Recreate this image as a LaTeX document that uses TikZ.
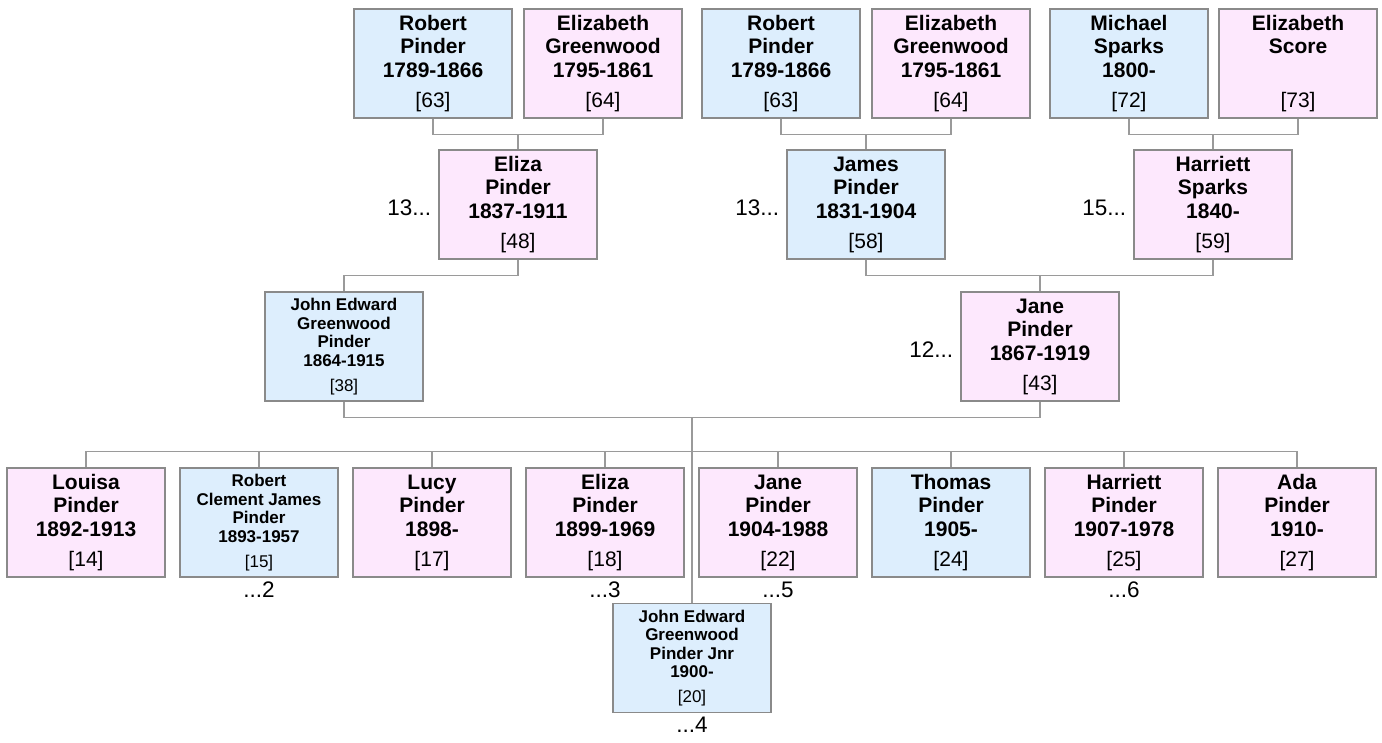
\documentclass[tikz,border=0pt]{standalone}
\usepackage{fontspec}
\setmainfont{Liberation Sans}
\definecolor{mblue}{HTML}{DDEEFD}
\definecolor{fpink}{HTML}{FDE8FD}
\definecolor{bord}{HTML}{8A8A8A}
\definecolor{conn}{HTML}{9A9A9A}
\tikzset{
 person/.style={rectangle, draw=bord, line width=1.2pt, minimum width=158pt, minimum height=109pt, inner sep=0pt, align=center},
 male/.style={person, fill=mblue},
 female/.style={person, fill=fpink},
 big/.style={font=\fontsize{21}{23.5}\selectfont\bfseries},
 small/.style={font=\fontsize{17}{18.5}\selectfont\bfseries},
 link/.style={draw=conn, line width=1.3pt},
 more/.style={font=\fontsize{22.5}{25}\selectfont, inner sep=0pt},
}
\newcommand\pid[1]{\\[6.5pt]{\mdseries #1}}
\begin{document}
\begin{tikzpicture}[x=1pt,y=-1pt]
\useasboundingbox (0,0) rectangle (1382,742);
% generation 1
\node[male,big] (rp1) at (433,63.5) {Robert\\Pinder\\1789-1866\pid{[63]}};
\node[female,big] (eg1) at (603,63.5) {Elizabeth\\Greenwood\\1795-1861\pid{[64]}};
\node[male,big] (rp2) at (781,63.5) {Robert\\Pinder\\1789-1866\pid{[63]}};
\node[female,big] (eg2) at (951,63.5) {Elizabeth\\Greenwood\\1795-1861\pid{[64]}};
\node[male,big] (ms) at (1129,63.5) {Michael\\Sparks\\1800-\pid{[72]}};
\node[female,big] (es) at (1298,63.5) {Elizabeth\\Score\\\strut\pid{[73]}};
% generation 2
\node[female,big] (ep) at (518,204.5) {Eliza\\Pinder\\1837-1911\pid{[48]}};
\node[male,big] (jp) at (866,204.5) {James\\Pinder\\1831-1904\pid{[58]}};
\node[female,big] (hs) at (1213,204.5) {Harriett\\Sparks\\1840-\pid{[59]}};
% generation 3
\node[male,small] (jeg) at (344,346.5) {John Edward\\Greenwood\\Pinder\\1864-1915\pid{[38]}};
\node[female,big] (jane) at (1040,346.5) {Jane\\Pinder\\1867-1919\pid{[43]}};
% children
\node[female,big] (c1) at (86,522.5) {Louisa\\Pinder\\1892-1913\pid{[14]}};
\node[male,small] (c2) at (259,522.5) {Robert\\Clement James\\Pinder\\1893-1957\pid{[15]}};
\node[female,big] (c3) at (432,522.5) {Lucy\\Pinder\\1898-\pid{[17]}};
\node[female,big] (c4) at (605,522.5) {Eliza\\Pinder\\1899-1969\pid{[18]}};
\node[female,big] (c5) at (778,522.5) {Jane\\Pinder\\1904-1988\pid{[22]}};
\node[male,big] (c6) at (951,522.5) {Thomas\\Pinder\\1905-\pid{[24]}};
\node[female,big] (c7) at (1124,522.5) {Harriett\\Pinder\\1907-1978\pid{[25]}};
\node[female,big] (c8) at (1297,522.5) {Ada\\Pinder\\1910-\pid{[27]}};
\node[male,small] (c9) at (692,658) {John Edward\\Greenwood\\Pinder Jnr\\1900-\pid{[20]}};
% side labels
\node[more,anchor=east] (l1) at ([xshift=-7pt,yshift=-3.5pt]ep.west) {13...};
\node[more,anchor=east] (l2) at ([xshift=-7pt,yshift=-3.5pt]jp.west) {13...};
\node[more,anchor=east] (l3) at ([xshift=-7pt,yshift=-3.5pt]hs.west) {15...};
\node[more,anchor=east] (l4) at ([xshift=-7pt,yshift=-3.5pt]jane.west) {12...};
\node[more,anchor=north] (d2) at ([yshift=-4pt]c2.south) {...2};
\node[more,anchor=north] (d3) at ([yshift=-4pt]c4.south) {...3};
\node[more,anchor=north] (d5) at ([yshift=-4pt]c5.south) {...5};
\node[more,anchor=north] (d6) at ([yshift=-4pt]c7.south) {...6};
\node[more,anchor=north] (d4) at ([yshift=-4pt]c9.south) {...4};
% connectors
\draw[link] (rp1.south) -- ++(0,16) coordinate (a1) -| (eg1.south);
\draw[link] (ep.north) -- (ep.north |- a1);
\draw[link] (rp2.south) -- ++(0,16) coordinate (a2) -| (eg2.south);
\draw[link] (jp.north) -- (jp.north |- a2);
\draw[link] (ms.south) -- ++(0,16) coordinate (a3) -| (es.south);
\draw[link] (hs.north) -- (hs.north |- a3);
\draw[link] (ep.south) -- ++(0,16) -| (jeg.north);
\draw[link] (jp.south) -- ++(0,16) coordinate (a4) -| (hs.south);
\draw[link] (jane.north) -- (jane.north |- a4);
\draw[link] (jeg.south) -- ++(0,16) coordinate (a5) -| (jane.south);
\draw[link] (c9.north) -- (c9.north |- a5);
\draw[link] (c1.north) -- ++(0,-16) coordinate (s1) -| (c8.north);
\foreach \c in {c2,c3,c4,c5,c6,c7} \draw[link] (\c.north) -- (\c.north |- s1);
\end{tikzpicture}
\end{document}
